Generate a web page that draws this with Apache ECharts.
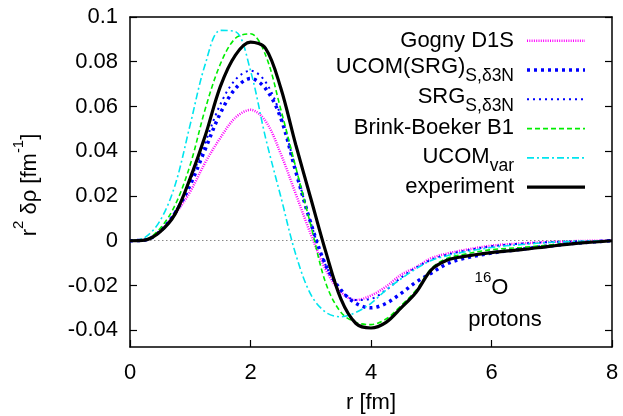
<!DOCTYPE html>
<html><head><meta charset="utf-8">
<script src="https://cdn.jsdelivr.net/npm/echarts@6/dist/echarts.min.js"></script>
<style>html,body{margin:0;padding:0;background:#fff}#c{width:623px;height:416px}</style>
</head><body><div id="c"></div>
<script>
// ---- data ----
const r = [0,0.25,0.5,0.75,1,1.25,1.5,1.75,2,2.25,2.5,2.75,3,3.25,3.5,3.75,4,4.25,4.5,4.75,5,5.25,5.5,6,6.5,7,7.5,8];
const gognyD1S  = [0,0.0003,0.0045,0.012,0.022,0.035,0.046,0.055,0.0585,0.0535,0.039,0.021,0.003,-0.013,-0.023,-0.0265,-0.0245,-0.0205,-0.0152,-0.0118,-0.0078,-0.0058,-0.0044,-0.0022,-0.0012,-0.0005,-0.0001,0];
const ucomSrg   = [0,0.0003,0.0042,0.0125,0.025,0.041,0.057,0.068,0.0725,0.068,0.055,0.031,0.008,-0.011,-0.022,-0.028,-0.030,-0.028,-0.0235,-0.0185,-0.0145,-0.0105,-0.0082,-0.0055,-0.0038,-0.0022,-0.0009,0];
const srg       = [0,0.0003,0.0045,0.013,0.027,0.044,0.061,0.072,0.076,0.071,0.056,0.032,0.008,-0.011,-0.022,-0.0265,-0.026,-0.022,-0.0165,-0.012,-0.0085,-0.0063,-0.0048,-0.0025,-0.0013,-0.0006,-0.0002,0];
const brinkB1   = [0,0.0005,0.0055,0.016,0.034,0.059,0.079,0.0905,0.0925,0.083,0.059,0.033,0.007,-0.019,-0.032,-0.0365,-0.0375,-0.035,-0.029,-0.022,-0.0125,-0.008,-0.0063,-0.004,-0.003,-0.0018,-0.0008,0];
const ucomVar   = [0,0.0015,0.009,0.025,0.052,0.079,0.094,0.0935,0.076,0.046,0.020,-0.006,-0.024,-0.032,-0.034,-0.032,-0.028,-0.022,-0.017,-0.0125,-0.0088,-0.0068,-0.0053,-0.003,-0.0017,-0.0007,-0.0002,0];
const experiment= [0,0.0003,0.004,0.012,0.028,0.047,0.069,0.083,0.0888,0.086,0.0685,0.043,0.019,-0.005,-0.026,-0.037,-0.039,-0.0365,-0.030,-0.023,-0.013,-0.0088,-0.0072,-0.0053,-0.004,-0.0024,-0.001,0];
const xTicks = [0,2,4,6,8];
const yTicks = [-0.04,-0.02,0,0.02,0.04,0.06,0.08,0.1];

const FONT = '"Liberation Sans", Arial, Helvetica, sans-serif';
function pairs(ys){ return r.map((x,i)=>[x, ys[i]]); }

const defs = [
  {name:'Gogny D1S', data:gognyD1S, color:'#ff00ff', width:2.5, dash:[1,1.3], label:'{m|Gogny D1S}', ty:40.7, sy:40.7},
  {name:'UCOM(SRG)', data:ucomSrg, color:'#0000ff', width:3.5, dash:[3,4], label:'{m|UCOM(SRG)}{s|S,δ3N}', ty:67, sy:70},
  {name:'SRG', data:srg, color:'#0000ff', width:2, dash:[2,4], label:'{m|SRG}{s|S,δ3N}', ty:97, sy:99.3},
  {name:'Brink-Boeker B1', data:brinkB1, color:'#00ee00', width:1.6, dash:[5,3], label:'{m|Brink-Boeker B1}', ty:128, sy:128.6},
  {name:'UCOMvar', data:ucomVar, color:'#00e5ee', width:1.6, dash:[7,3,2,3], label:'{m|UCOM}{s|var}', ty:156.7, sy:157.9},
  {name:'experiment', data:experiment, color:'#000000', width:3.2, dash:'solid', label:'{m|experiment}', ty:186.5, sy:187.2}
];

const series = defs.map((d,i)=>({
  type:'line', name:d.name, data:pairs(d.data), smooth:0.34, showSymbol:false, symbol:'none',
  xAxisIndex:0, yAxisIndex:0, z:2+i,
  lineStyle:{color:d.color, width:d.width, type:d.dash, cap:'butt'},
  silent:true, animation:false,
  markLine: i===0 ? {silent:true, symbol:['none','none'], label:{show:false}, animation:false,
    lineStyle:{color:'#888', width:1, type:[1.5,2.5]}, data:[{yAxis:0}]} : undefined
}));

const rich = {
  m:{fontSize:22, fontFamily:FONT, fill:'#000', lineHeight:22},
  s:{fontSize:17.5, fontFamily:FONT, fill:'#000', lineHeight:16, padding:[18,0,0,0]},
  p:{fontSize:15, fontFamily:FONT, fill:'#000', lineHeight:15, padding:[0,0,24,0]},
  q:{fontSize:15, fontFamily:FONT, fill:'#000', lineHeight:15, padding:[0,0,20,0]}
};

const graphic = [];
defs.forEach(d=>{
  graphic.push({type:'text', x:514, y:d.ty, silent:true, style:{text:d.label, align:'right', verticalAlign:'middle', rich:rich, fontFamily:FONT, fontSize:22, fill:'#000'}});
  graphic.push({type:'line', silent:true, shape:{x1:527, y1:d.sy, x2:585, y2:d.sy}, style:{stroke:d.color, lineWidth:d.width, lineDash: d.dash==='solid'?null:d.dash, lineCap:'butt'}});
});
graphic.push({type:'text', x:30.4, y:185, rotation:Math.PI/2, silent:true, style:{text:'{m|r}{p|2}{m| δρ [fm}{p|-1}{m|]}', align:'center', verticalAlign:'middle', rich:rich, fontFamily:FONT, fontSize:22, fill:'#000'}});
graphic.push({type:'text', x:371, y:403, silent:true, style:{text:'r [fm]', align:'center', verticalAlign:'middle', fontFamily:FONT, fontSize:22, fill:'#000'}});
graphic.push({type:'text', x:491.5, y:288, silent:true, style:{text:'{q|16}{m|O}', align:'center', verticalAlign:'middle', rich:rich, fontFamily:FONT, fontSize:22, fill:'#000'}});
graphic.push({type:'text', x:505, y:319.5, silent:true, style:{text:'protons', align:'center', verticalAlign:'middle', fontFamily:FONT, fontSize:22, fill:'#000'}});

const axLine = {show:true, onZero:false, lineStyle:{color:'#000', width:1.5}};
const chart = echarts.init(document.getElementById('c'), null, {renderer:'canvas'});
chart.setOption({
  animation:false,
  backgroundColor:'#fff',
  textStyle:{fontFamily:FONT},
  grid:{left:130, right:11, top:17, bottom:69, containLabel:false},
  xAxis:[
    {type:'value', min:0, max:8, interval:2, position:'bottom', axisLine:axLine,
     axisTick:{show:true, inside:true, length:7, lineStyle:{color:'#000', width:1.2}},
     axisLabel:{show:true, margin:15, fontSize:22, color:'#000', fontFamily:FONT, customValues:xTicks},
     splitLine:{show:false}},
    {type:'value', min:0, max:8, position:'top', axisLine:axLine, axisTick:{show:false}, axisLabel:{show:false}, splitLine:{show:false}}
  ],
  yAxis:[
    {type:'value', min:-0.0475, max:0.1, position:'left', axisLine:axLine,
     axisTick:{show:true, inside:true, length:7, customValues:yTicks, lineStyle:{color:'#000', width:1.2}},
     axisLabel:{show:true, margin:12, fontSize:22, color:'#000', fontFamily:FONT, customValues:yTicks,
       formatter:v=>String(Math.round(v*100)/100)},
     splitLine:{show:false}},
    {type:'value', min:-0.0475, max:0.1, position:'right', axisLine:axLine,
     axisTick:{show:true, inside:true, length:7, customValues:yTicks, lineStyle:{color:'#000', width:1.2}},
     axisLabel:{show:false}, splitLine:{show:false}}
  ],
  series:series,
  graphic:graphic
});
</script></body></html>
